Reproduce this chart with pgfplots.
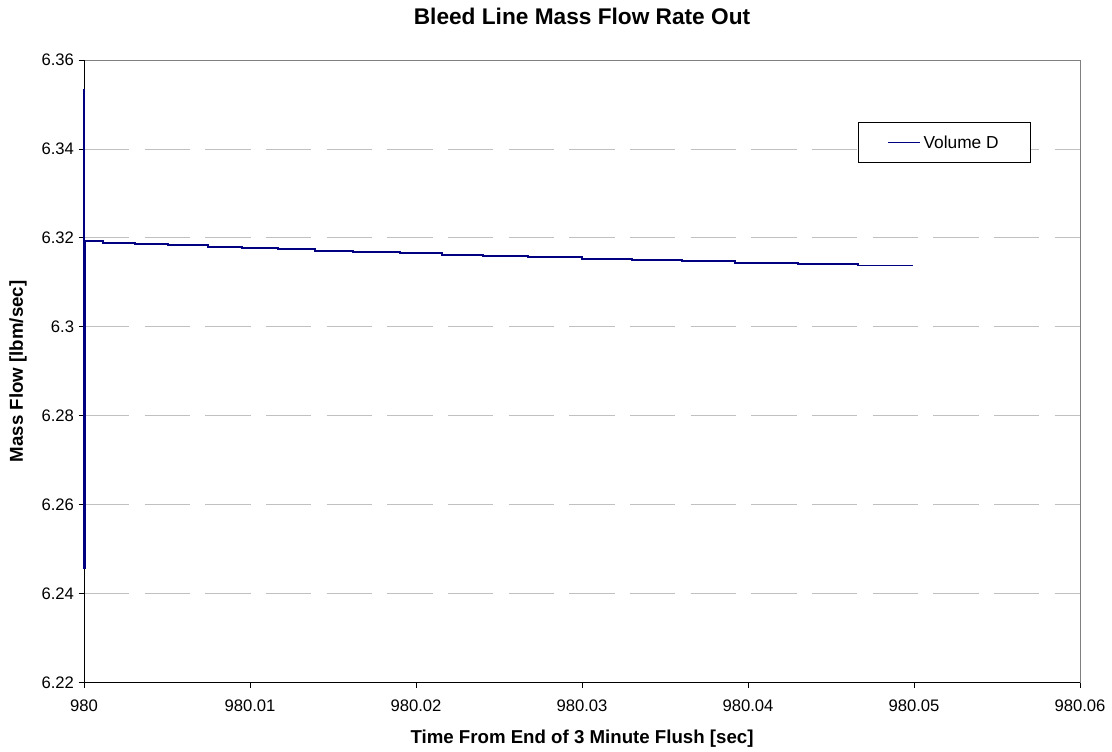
\documentclass[border=0pt]{standalone}
\usepackage{pgfplots}
\pgfplotsset{compat=1.18}
\usepackage{fontspec}
\setmainfont{Liberation Sans}
\definecolor{flow}{HTML}{000080}
\definecolor{gridgray}{HTML}{C0C0C0}
\definecolor{framegray}{HTML}{808080}
\begin{document}
\begin{tikzpicture}
\begin{axis}[
  scale only axis, width=747pt, height=467pt,
  xmin=980, xmax=980.06, ymin=6.22, ymax=6.36,
  xtick={980,980.01,980.02,980.03,980.04,980.05,980.06},
  ytick={6.22,6.24,6.26,6.28,6.3,6.32,6.34,6.36},
  scaled x ticks=false, scaled y ticks=false,
  /pgf/number format/.cd, fixed, precision=2, assume math mode=true, /pgfplots/.cd,
  tick label style={font=\fontsize{12.5}{15}\selectfont},
  xticklabel style={yshift=-5pt},
  tick align=outside, xtick pos=bottom, ytick pos=left,
  major tick length=4pt, tick style={black, line width=0.6pt},
  axis line style={framegray, line width=0.6pt},
  ymajorgrids, grid style={gridgray, line width=0.6pt, dash pattern=on 34pt off 11.5pt},
  title={Bleed Line Mass Flow Rate Out},
  title style={font=\bfseries\fontsize{17}{20}\selectfont, at={(axis description cs:0.5,1.057)}, anchor=center},
  xlabel={Time From End of 3 Minute Flush [sec]},
  xlabel style={font=\bfseries\fontsize{14}{16}\selectfont, at={(axis description cs:0.5,-0.0905)}, anchor=center},
  ylabel={Mass Flow [lbm/sec]},
  ylabel style={font=\bfseries\fontsize{14}{16}\selectfont, at={(axis description cs:-0.0663,0.5)}, anchor=center, rotate=0},
  legend style={at={(0.951,0.900)}, anchor=north east, draw=black, line width=0.8pt,
    font=\fontsize{13}{15}\selectfont, inner xsep=22pt, inner ysep=7.5pt},
  legend image code/.code={\draw[#1, line width=0.8pt] (0pt,0pt) -- (24pt,0pt);},
  clip=false,
]
\draw[black, line width=0.6pt] (rel axis cs:0,1) -- (rel axis cs:0,0) -- (rel axis cs:1,0);
\addplot[flow, line width=1.4pt, const plot] coordinates {
  (980,6.3535) (980,6.2458)
  (980.00006,6.31939) (980.00114,6.31894) (980.00307,6.31865) (980.00506,6.31843)
  (980.00747,6.31798) (980.00952,6.31775) (980.01169,6.31753) (980.01392,6.31715)
  (980.01620,6.31692) (980.01904,6.31670) (980.02157,6.31625) (980.02404,6.31596)
  (980.02675,6.31573) (980.03000,6.31535) (980.03301,6.31512) (980.03602,6.31490)
  (980.03922,6.31445) (980.04301,6.31416) (980.04663,6.31378) (980.04994,6.31378)
};
\legend{Volume D}
\end{axis}
\pgfresetboundingbox
\path (-63pt,-51.75pt) rectangle (771pt,512pt);
\end{tikzpicture}
\end{document}
